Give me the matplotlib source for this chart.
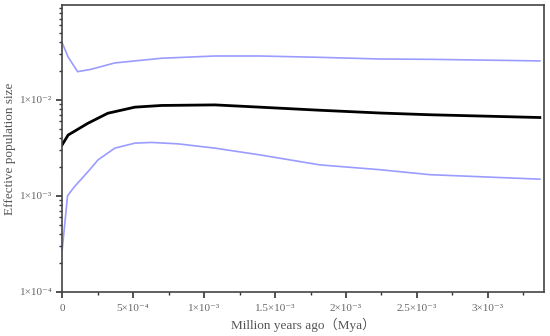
import matplotlib
matplotlib.use("Agg")
import matplotlib.pyplot as plt
from matplotlib.ticker import FixedLocator, MultipleLocator, LogLocator, NullFormatter

# values (x in Mya, y = effective population size)
median_x = [0, 4.2e-5, 1.81e-4, 3.22e-4, 5.12e-4, 7.0e-4, 1.076e-3, 1.393e-3,
            1.816e-3, 2.239e-3, 2.591e-3, 3.366e-3]
median_y = [3.4e-3, 4.3e-3, 5.7e-3, 7.26e-3, 8.4e-3, 8.75e-3, 8.87e-3, 8.4e-3,
            7.8e-3, 7.3e-3, 7.0e-3, 6.55e-3]

upper_x = [0, 4.2e-5, 1.09e-4, 2.0e-4, 3.71e-4, 5.12e-4, 7.0e-4, 1.076e-3,
           1.393e-3, 1.816e-3, 2.239e-3, 2.591e-3, 3.366e-3]
upper_y = [0.0395, 0.028, 0.0197, 0.0208, 0.0243, 0.0255, 0.0272, 0.0287,
           0.0287, 0.0278, 0.0267, 0.0265, 0.0255]

lower_x = [0, 3.8e-5, 8.8e-5, 1.83e-4, 2.53e-4, 3.71e-4, 5.12e-4, 6.3e-4,
           8.17e-4, 1.076e-3, 1.393e-3, 1.816e-3, 2.239e-3, 2.591e-3, 3.366e-3]
lower_y = [2.7e-4, 1.0e-3, 1.25e-3, 1.79e-3, 2.37e-3, 3.14e-3, 3.54e-3, 3.6e-3,
           3.48e-3, 3.14e-3, 2.67e-3, 2.1e-3, 1.87e-3, 1.66e-3, 1.49e-3]

x_ticks = [0, 5e-4, 1e-3, 1.5e-3, 2e-3, 2.5e-3, 3e-3]
x_labels = ["0", "5×10⁻⁴", "1×10⁻³", "1.5×10⁻³", "2×10⁻³", "2.5×10⁻³", "3×10⁻³"]
y_ticks = [1e-4, 1e-3, 1e-2]
y_labels = ["1×10⁻⁴", "1×10⁻³", "1×10⁻²"]

plt.rcParams["font.family"] = ["Liberation Serif", "DejaVu Serif", "Noto Sans CJK SC"]

fig = plt.figure(figsize=(5.5, 3.36), dpi=100)
ax = fig.add_axes([0.113, 0.132, 0.876, 0.853])

blue = "#9a9cff"
ax.plot(upper_x, upper_y, color=blue, lw=1.2)
ax.plot(lower_x, lower_y, color=blue, lw=1.2)
ax.plot(median_x, median_y, color="black", lw=2.0)

ax.set_yscale("log")
ax.set_xlim(0, 3.395e-3)
ax.set_ylim(1e-4, 0.0976)

ax.xaxis.set_major_locator(FixedLocator(x_ticks))
ax.set_xticklabels(x_labels)
ax.xaxis.set_minor_locator(MultipleLocator(2.5e-4))
ax.yaxis.set_major_locator(FixedLocator(y_ticks))
ax.set_yticklabels(y_labels)
ax.yaxis.set_minor_locator(LogLocator(base=10, subs=range(2, 10)))
ax.yaxis.set_minor_formatter(NullFormatter())

ax.tick_params(which="both", direction="out", colors="#333333", labelcolor="#666666",
               labelsize=8, top=False, right=False)
ax.tick_params(which="major", length=4, width=1.2)
ax.tick_params(axis="y", which="major", pad=3)
ax.tick_params(axis="x", which="major", pad=5)
ax.tick_params(which="minor", length=2.5, width=1)

for s in ax.spines.values():
    s.set_color("#444444")
    s.set_linewidth(1.2)

ax.set_ylabel("Effective population size", fontsize=9.5, color="#555555", va="center")
ax.yaxis.set_label_coords(-0.108, 0.5)
ax.set_xlabel("Million years ago（Mya）", fontsize=9.5, color="#555555", va="center")
ax.xaxis.set_label_coords(0.5, -0.116)

fig.savefig("out.png", dpi=100)
